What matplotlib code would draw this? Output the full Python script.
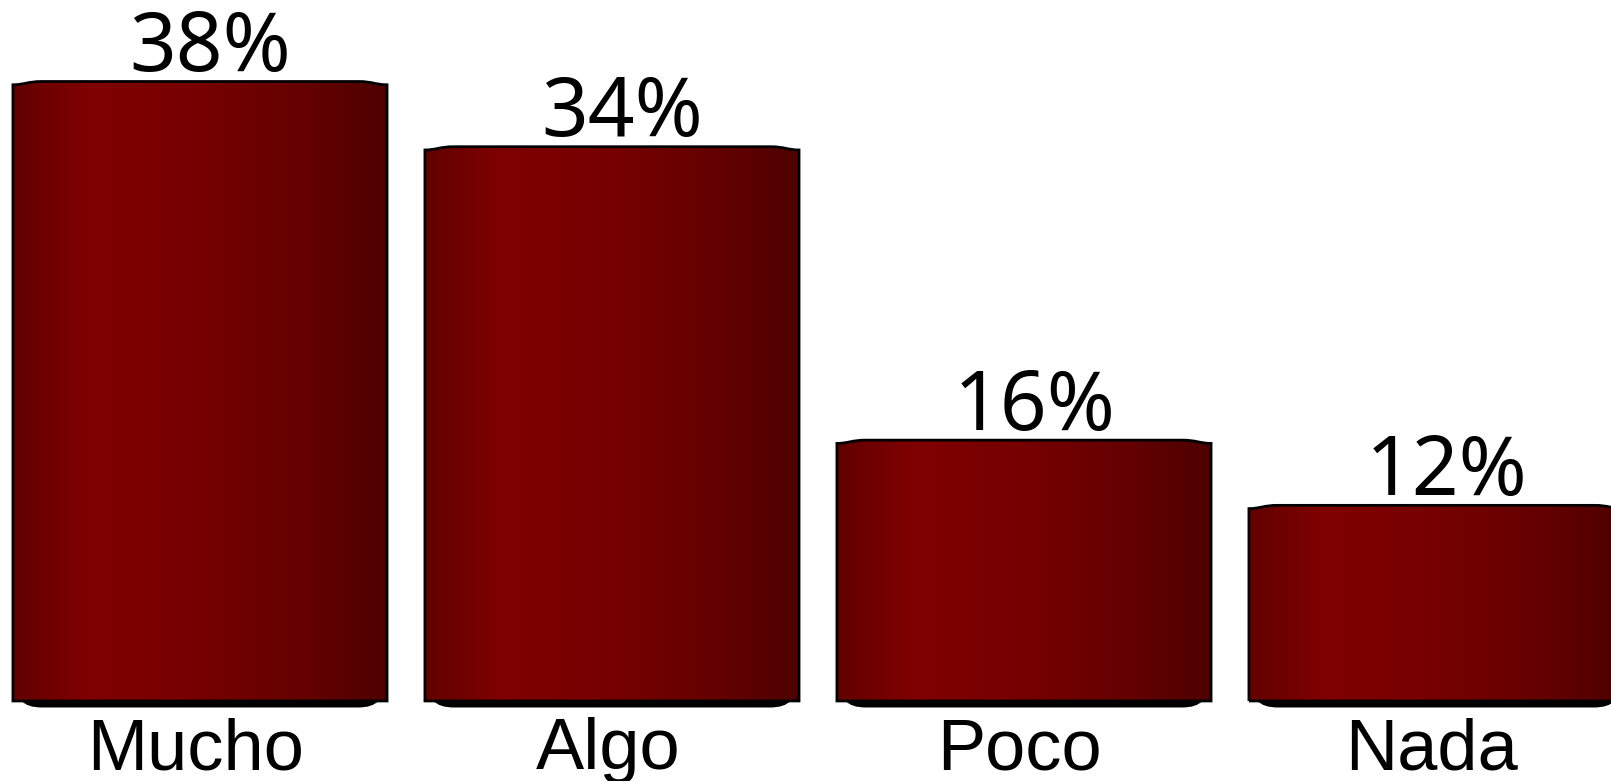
import numpy as np
import matplotlib.pyplot as plt
from matplotlib.path import Path
from matplotlib.patches import PathPatch
from matplotlib.colors import LinearSegmentedColormap

categories = ['Mucho', 'Algo', 'Poco', 'Nada']
values = [38, 34, 16, 12]
labels = ['38%', '34%', '16%', '12%']

# horizontal shading of each bar (dark edge -> bright -> dark)
shade = LinearSegmentedColormap.from_list('shade', [
    (0.0, '#620000'), (0.2, '#800000'), (0.5, '#760000'),
    (0.78, '#640000'), (1.0, '#4e0000')])

fig = plt.figure(figsize=(16.11, 7.81), dpi=100)
ax = fig.add_axes([0, 0, 1, 1])
ax.set_xlim(-0.4854, 3.4248)
ax.set_ylim(-4.91, 43.0)
ax.axis('off')

width = 0.908
grad = np.linspace(0, 1, 256).reshape(1, -1)

for i, (cat, v, lab) in enumerate(zip(categories, values, labels)):
    x0 = i - width / 2
    x1 = i + width / 2
    d = 0.2    # cap dip at the corners
    c = 0.07   # horizontal extent of the curved corner
    verts = [(x0, 0), (x0, v - d), (x0 + c * 0.4, v - d), (x0 + c * 0.5, v),
             (x0 + c, v), (x1 - c, v), (x1 - c * 0.5, v), (x1 - c * 0.4, v - d),
             (x1, v - d), (x1, 0), (x0, 0)]
    codes = [Path.MOVETO, Path.LINETO, Path.CURVE4, Path.CURVE4, Path.CURVE4,
             Path.LINETO, Path.CURVE4, Path.CURVE4, Path.CURVE4,
             Path.LINETO, Path.CLOSEPOLY]
    outline = Path(verts, codes)

    # bottom shadow (lens shaped, under the bar)
    s = 0.4
    sv = [(x0 + c * 0.3, 0), (x0 + c * 0.5, -s), (x0 + c, -s),
          (x1 - c, -s), (x1 - c * 0.5, -s), (x1 - c * 0.3, 0), (x0 + c * 0.3, 0)]
    sc = [Path.MOVETO, Path.CURVE3, Path.CURVE3, Path.LINETO,
          Path.CURVE3, Path.CURVE3, Path.CLOSEPOLY]
    ax.add_patch(PathPatch(Path(sv, sc), facecolor='black', edgecolor='none', zorder=1))

    im = ax.imshow(grad, cmap=shade, aspect='auto', extent=(x0, x1, 0, v),
                   interpolation='bilinear', zorder=2)
    patch = PathPatch(outline, facecolor='none', edgecolor='black', lw=2, zorder=3)
    ax.add_patch(patch)
    im.set_clip_path(patch)

    ax.text(i + 0.025, v + 0.65, lab, ha='center', va='baseline',
            fontsize=59, family=['Noto Sans', 'DejaVu Sans'], color='black')
    ax.text(i - 0.01, -4.18, cat, ha='center', va='baseline',
            fontsize=52, family=['Liberation Sans', 'DejaVu Sans'], color='black')

fig.savefig('out.png', dpi=100)
